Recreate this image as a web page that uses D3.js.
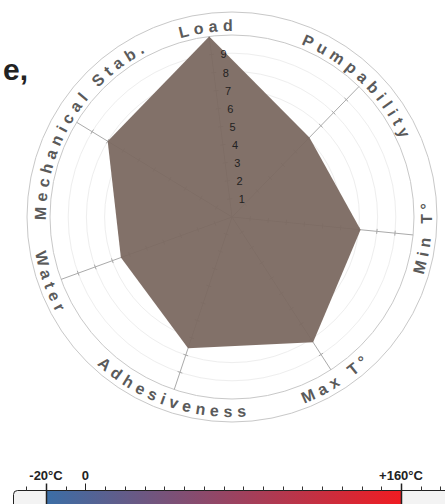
<!DOCTYPE html>
<html lang="en">
<head>
	<meta charset="utf-8">
	<title>Grease radar</title>
	<style type="text/css">
		html, body {
			padding: 0;
			margin: 0;
			background: #fff;
		}
		* {
			font-family: "Liberation Sans", Arial, sans-serif;
		}
	</style>
</head>
<body>
<div id="chartDiv"></div>
<script src="https://d3js.org/d3.v7.min.js"></script>
<script type="text/javascript">
// radar axes and the product's scores (0-10)
var axes = ["Load", "Pumpability", "Min T°", "Max T°", "Adhesiveness", "Water", "Mechanical Stab."];
var scores = [10, 6.1, 7.1, 8.2, 7.6, 6.5, 8.0];
var ringLabels = [1, 2, 3, 4, 5, 6, 7, 8, 9];

// temperature bar
var tempRange = [-20, 160];
var tempTicks = [-30, -10, 10, 20, 30, 40, 50, 60, 70, 80, 90, 100, 110, 120, 130, 140, 150, 170, 180];
var tempMarks = [-20, 0, 160];
var tempMarkLabels = ["-20°C", "0", "+160°C"];

var width = 445, height = 504;
var cx = 232, cy = 217;
var rInner = 182, rOuter = 205;
var rotation = -7.2 * Math.PI / 180;

var svg = d3.select("#chartDiv")
	.append("svg")
	.attr("width", width)
	.attr("height", height);

// clipped title
svg.append("text")
	.attr("x", 28)
	.attr("y", 80)
	.attr("text-anchor", "end")
	.style("font-size", "30px")
	.style("font-weight", "bold")
	.style("fill", "#222")
	.text("e,");

var r = d3.scaleLinear().domain([0, 10]).range([0, rInner]);
var angle = d3.scaleLinear()
	.domain([0, axes.length])
	.range([rotation, rotation + 2 * Math.PI]);

function px(a, rad) { return cx + rad * Math.sin(a); }
function py(a, rad) { return cy - rad * Math.cos(a); }

var g = svg.append("g");

// faint rings
g.selectAll(".ring")
	.data(ringLabels)
	.enter()
	.append("circle")
	.attr("class", "ring")
	.attr("cx", cx)
	.attr("cy", cy)
	.attr("r", function (d) { return r(d); })
	.attr("fill", "none")
	.attr("stroke", "#eeeeee");

// band circles
g.selectAll(".band")
	.data([rInner, rOuter])
	.enter()
	.append("circle")
	.attr("class", "band")
	.attr("cx", cx)
	.attr("cy", cy)
	.attr("r", function (d) { return d; })
	.attr("fill", "none")
	.attr("stroke", "#c8c8c8");

// axes with ticks, under the polygon
var axis = g.selectAll(".axis")
	.data(axes)
	.enter()
	.append("g")
	.attr("class", "axis");

axis.append("line")
	.attr("x1", cx)
	.attr("y1", cy)
	.attr("x2", function (d, i) { return px(angle(i), rInner); })
	.attr("y2", function (d, i) { return py(angle(i), rInner); })
	.attr("stroke", "#aaa");

axis.each(function (d, i) {
	var a = angle(i);
	d3.select(this).selectAll("line.tick")
		.data(ringLabels)
		.enter()
		.append("line")
		.attr("class", "tick")
		.attr("x1", function (v) { return px(a, r(v)) + 2.5 * Math.cos(a); })
		.attr("y1", function (v) { return py(a, r(v)) + 2.5 * Math.sin(a); })
		.attr("x2", function (v) { return px(a, r(v)) - 2.5 * Math.cos(a); })
		.attr("y2", function (v) { return py(a, r(v)) - 2.5 * Math.sin(a); })
		.attr("stroke", "#aaa");
});

// the polygon
var radarLine = d3.lineRadial()
	.angle(function (d, i) { return angle(i); })
	.radius(function (d) { return r(d); })
	.curve(d3.curveLinearClosed);

g.append("path")
	.attr("transform", "translate(" + cx + "," + cy + ")")
	.attr("d", radarLine(scores))
	.attr("fill", "#7b6961")
	.attr("fill-opacity", 0.95);

// scale numbers along the first axis
g.selectAll(".ringLabel")
	.data(ringLabels)
	.enter()
	.append("text")
	.attr("class", "ringLabel")
	.attr("x", function (d) { return px(angle(0), r(d)) + 9; })
	.attr("y", function (d) { return py(angle(0), r(d)) + 4; })
	.style("font-size", "11px")
	.style("fill", "#222")
	.text(function (d) { return d; });

// curved axis names
function labelArc(a, flip) {
	var p = d3.path();
	var c = a - Math.PI / 2;
	var rad = flip ? 200 : 186;
	var s = flip ? c + Math.PI * 0.9 : c - Math.PI * 0.9;
	var e = flip ? c - Math.PI * 0.9 : c + Math.PI * 0.9;
	p.moveTo(cx + rad * Math.cos(s), cy + rad * Math.sin(s));
	p.arc(cx, cy, rad, s, e, flip);
	return p.toString();
}

function isFlipped(i) {
	var a = ((angle(i) % (2 * Math.PI)) + 2 * Math.PI) % (2 * Math.PI);
	return a > Math.PI / 2 && a < 3 * Math.PI / 2;
}

var defs = svg.append("defs");
defs.selectAll("path")
	.data(axes)
	.enter()
	.append("path")
	.attr("id", function (d, i) { return "labelArc" + i; })
	.attr("d", function (d, i) { return labelArc(angle(i), isFlipped(i)); });

g.selectAll(".axisName")
	.data(axes)
	.enter()
	.append("text")
	.attr("class", "axisName")
	.style("font-size", "16px")
	.style("font-weight", "bold")
	.style("letter-spacing", "5px")
	.style("fill", "#5a5a5a")
	.append("textPath")
	.attr("href", function (d, i) { return "#labelArc" + i; })
	.attr("startOffset", "50%")
	.style("text-anchor", "middle")
	.text(function (d) { return d; });

// temperature bar at the bottom
var x = d3.scaleLinear().domain(tempRange).range([46, 401]);
var barTop = 490.5;

var grad = defs.append("linearGradient")
	.attr("id", "tempGrad")
	.attr("x1", "0%").attr("x2", "100%")
	.attr("y1", "0%").attr("y2", "0%");
grad.append("stop").attr("offset", "0%").attr("stop-color", "#3b6ea6");
grad.append("stop").attr("offset", "100%").attr("stop-color", "#f01c22");

svg.append("rect")
	.attr("x", 13.5)
	.attr("y", barTop)
	.attr("width", 460)
	.attr("height", 30)
	.attr("rx", 4)
	.attr("fill", "#f3f3f3")
	.attr("stroke", "#222");

svg.append("rect")
	.attr("x", x(tempRange[0]))
	.attr("y", barTop + 0.5)
	.attr("width", x(tempRange[1]) - x(tempRange[0]))
	.attr("height", 20)
	.attr("fill", "url(#tempGrad)");

svg.append("line")
	.attr("x1", x(tempRange[0]))
	.attr("x2", x(tempRange[1]))
	.attr("y1", barTop)
	.attr("y2", barTop)
	.attr("stroke", "#222");

svg.selectAll(".tempTick")
	.data(tempTicks)
	.enter()
	.append("line")
	.attr("class", "tempTick")
	.attr("x1", function (d) { return Math.round(x(d)) + 0.5; })
	.attr("x2", function (d) { return Math.round(x(d)) + 0.5; })
	.attr("y1", barTop - 4)
	.attr("y2", barTop)
	.attr("stroke", "#333");

svg.selectAll(".tempMark")
	.data(tempMarks)
	.enter()
	.append("line")
	.attr("class", "tempMark")
	.attr("x1", function (d) { return Math.round(x(d)) + 0.5; })
	.attr("x2", function (d) { return Math.round(x(d)) + 0.5; })
	.attr("y1", barTop - 7)
	.attr("y2", function (d) { return d === 0 ? barTop : height; })
	.attr("stroke", "#222")
	.attr("stroke-width", function (d) { return d === 0 ? 1 : 1.5; });

svg.selectAll(".tempLabel")
	.data(tempMarks)
	.enter()
	.append("text")
	.attr("class", "tempLabel")
	.attr("x", function (d) { return x(d); })
	.attr("y", 480)
	.attr("text-anchor", "middle")
	.style("font-size", "13px")
	.style("font-weight", "bold")
	.style("fill", "#222")
	.text(function (d, i) { return tempMarkLabels[i]; });
</script>
</body>
</html>
